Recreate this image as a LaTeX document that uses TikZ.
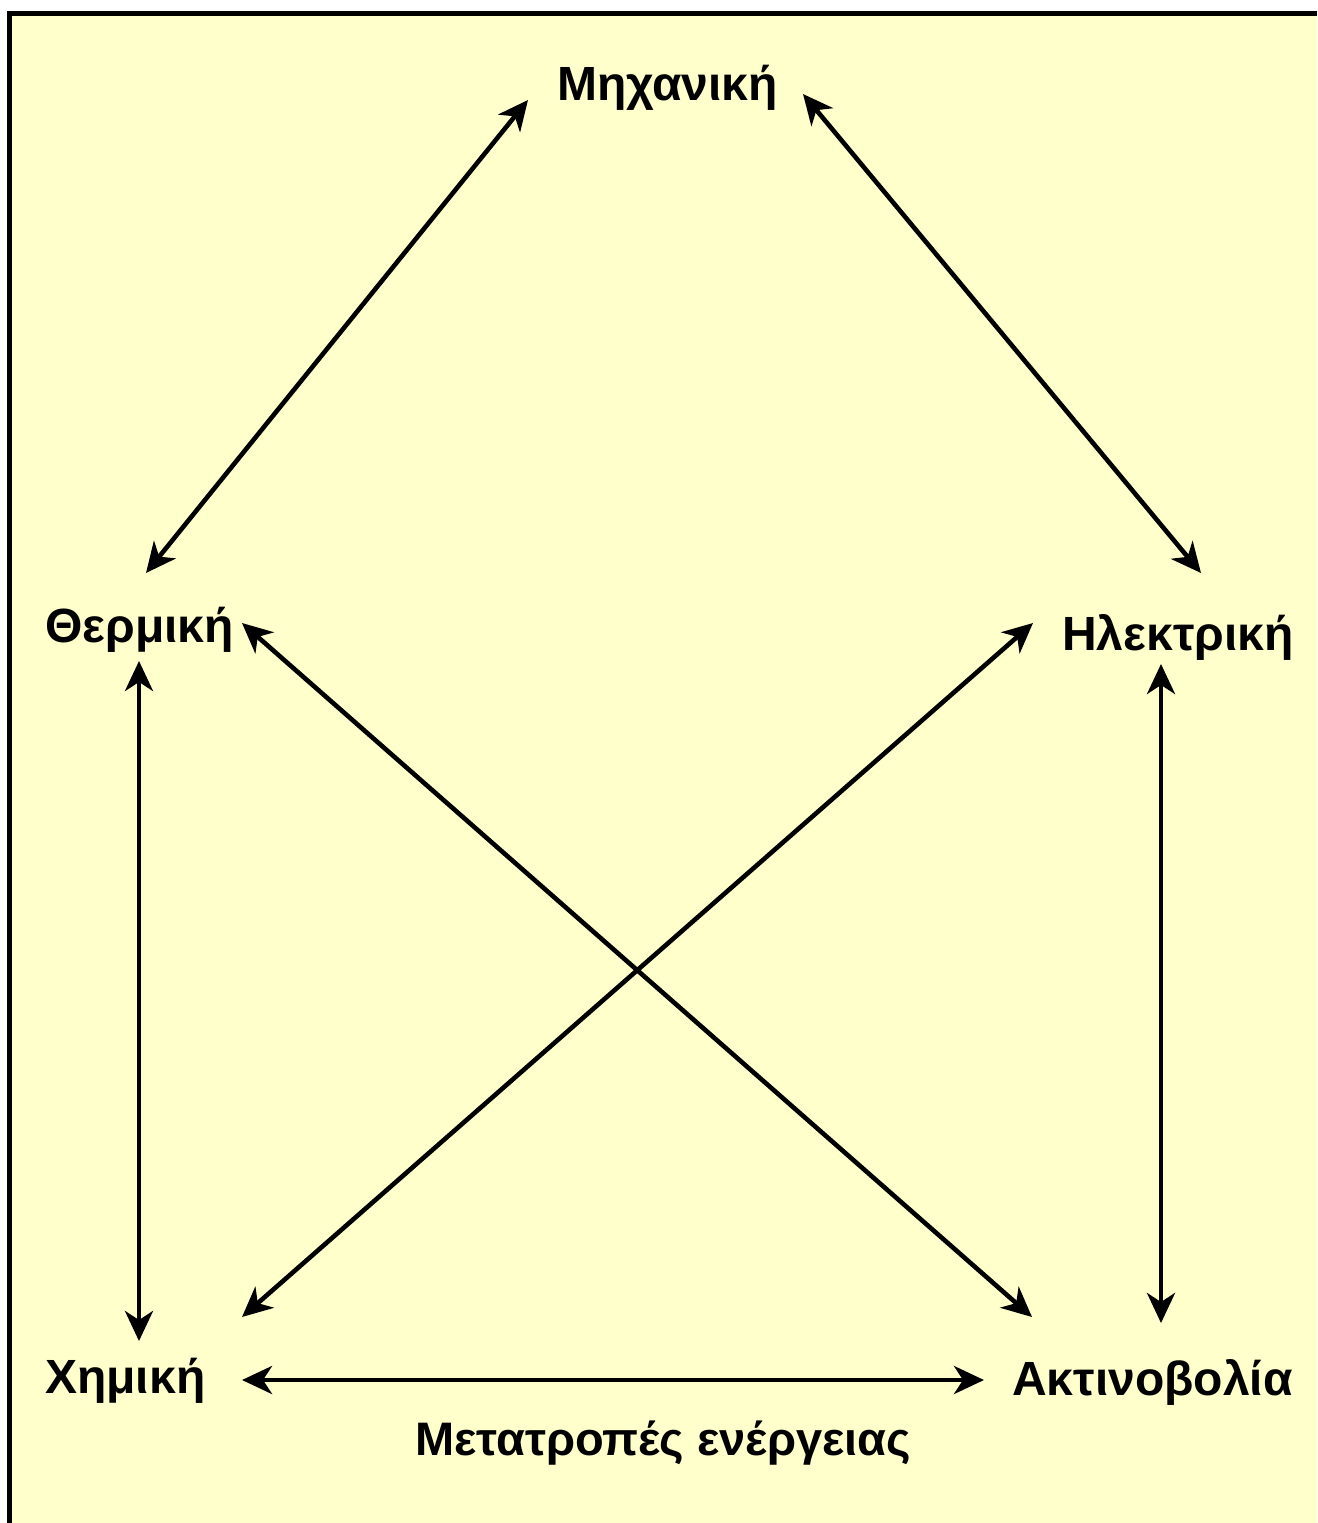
\documentclass[tikz,border=0pt]{standalone}
\usepackage{fontspec}
\setmainfont{Liberation Sans}
\usetikzlibrary{arrows.meta}
\definecolor{bgyellow}{HTML}{FFFFCC}
\tikzset{
  lbl/.style={inner sep=0pt, anchor=base west, font=\bfseries\fontsize{48}{58}\selectfont},
  ttl/.style={inner sep=0pt, anchor=base west, font=\bfseries\fontsize{47}{56}\selectfont},
  conv/.style={line width=4.6pt, {Stealth[length=30pt,width=28pt,inset=9pt]}-{Stealth[length=30pt,width=28pt,inset=9pt]}},
}
\begin{document}
\begin{tikzpicture}[x=1pt,y=-1pt]
\useasboundingbox (0,0) rectangle (1317,1523);
\fill[white] (0,0) rectangle (1317,1523);
\fill[bgyellow] (9,13) rectangle (1317,1523);
\draw[line width=5pt] (9,1523) -- (9,13) -- (1317,13);
% labels
\node[lbl] (mech) at (557,100) {Μηχανική};
\node[lbl] (therm) at (45,642) {Θερμική};
\node[lbl] (elec) at (1062,650) {Ηλεκτρική};
\node[lbl] (chem) at (45,1393) {Χημική};
\node[lbl] (rad) at (1012,1395) {Ακτινοβολία};
\node[ttl] (title) at (415,1455) {Μετατροπές ενέργειας};
% arrow end points
\coordinate (mechL) at (528,100);
\coordinate (mechR) at (803,94);
\coordinate (thermT) at (146,573);
\coordinate (thermR) at (242,623);
\coordinate (thermB) at (139,661);
\coordinate (elecT) at (1201,573);
\coordinate (elecL) at (1033,623);
\coordinate (elecB) at (1161,664);
\coordinate (chemT) at (139,1341);
\coordinate (chemR) at (242,1317);
\coordinate (chemH) at (242,1380);
\coordinate (radT) at (1032,1317);
\coordinate (radV) at (1161,1323);
\coordinate (radH) at (984,1380);
% connectors
\draw[conv] (mechL) -- (thermT);
\draw[conv] (mechR) -- (elecT);
\draw[conv] (thermB) -- (chemT);
\draw[conv] (elecB) -- (radV);
\draw[conv] (thermR) -- (radT);
\draw[conv] (elecL) -- (chemR);
\draw[conv] (chemH) -- (radH);
\end{tikzpicture}
\end{document}
